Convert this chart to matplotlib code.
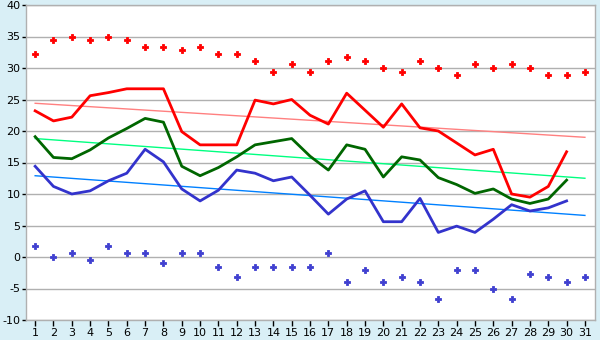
import numpy as np
import matplotlib
matplotlib.use("Agg")
import matplotlib.pyplot as plt

plt.rcParams['axes.unicode_minus'] = False

days = np.arange(1, 32)
line_days = np.arange(1, 31)

# record high / record low for each day
rec_high = [32.2, 34.4, 35.0, 34.4, 35.0, 34.4, 33.3, 33.3, 32.8, 33.3,
            32.2, 32.2, 31.1, 29.4, 30.6, 29.4, 31.1, 31.7, 31.1, 30.0,
            29.4, 31.1, 30.0, 28.9, 30.6, 30.0, 30.6, 30.0, 28.9, 28.9, 29.4]
rec_low = [1.7, 0.0, 0.6, -0.5, 1.7, 0.6, 0.6, -1.0, 0.6, 0.6,
           -1.6, -3.2, -1.6, -1.6, -1.6, -1.6, 0.6, -3.9, -2.1, -3.9,
           -3.2, -3.9, -6.7, -2.1, -2.1, -5.0, -6.7, -2.7, -3.2, -3.9, -3.2]

# daily max / mean / min for days 1..30
t_max = [23.2, 21.6, 22.2, 25.6, 26.1, 26.7, 26.7, 26.7, 19.9, 17.8,
         17.8, 17.8, 24.9, 24.3, 25.0, 22.5, 21.1, 26.0, 23.3, 20.6,
         24.3, 20.5, 20.0, 18.1, 16.2, 17.1, 10.0, 9.5, 11.2, 16.7]
t_mean = [19.1, 15.8, 15.6, 17.0, 18.9, 20.4, 22.0, 21.4, 14.4, 12.9,
          14.2, 15.9, 17.8, 18.3, 18.8, 16.0, 13.8, 17.8, 17.1, 12.7,
          15.9, 15.4, 12.6, 11.5, 10.1, 10.8, 9.2, 8.5, 9.2, 12.2]
t_min = [14.4, 11.2, 10.0, 10.5, 12.1, 13.3, 17.1, 15.1, 10.8, 8.9,
         10.6, 13.8, 13.3, 12.1, 12.7, 9.8, 6.8, 9.2, 10.5, 5.6,
         5.6, 9.3, 3.9, 4.9, 3.9, 6.0, 8.3, 7.3, 7.8, 8.9]

# climate normals, start and end of month
norm_days = [1, 31]
norm_max = [24.4, 19.0]
norm_mean = [18.8, 12.5]
norm_min = [12.9, 6.6]

bg = '#d9eff6'
grid_c = '#b0b0b0'

fig = plt.figure(figsize=(6, 3.4), dpi=100, facecolor=bg)
ax = fig.add_axes([26 / 600, 1 - 320 / 340, 569 / 600, 315 / 340])
ax.set_facecolor('white')

ax.set_ylim(-10, 40)
ax.set_xlim(0.5, 31.55)
ax.set_yticks(np.arange(-10, 41, 5))
ax.set_xticks(days)
ax.yaxis.grid(True, color=grid_c, linewidth=1)
ax.set_axisbelow(True)

ax.plot(norm_days, norm_max, color='#ff8080', linewidth=1)
ax.plot(norm_days, norm_mean, color='#00ff80', linewidth=1)
ax.plot(norm_days, norm_min, color='#0080ff', linewidth=1)

ax.plot(line_days, t_max, color='#ff0000', linewidth=2)
ax.plot(line_days, t_mean, color='#006600', linewidth=2)
ax.plot(line_days, t_min, color='#3333cc', linewidth=2)

ax.plot(days, rec_high, linestyle='none', marker='P', markersize=5,
        color='#ff0000', markeredgewidth=0.6)
ax.plot(days, rec_low, linestyle='none', marker='P', markersize=5,
        color='#3f3fd0', markeredgewidth=0.6)

for s in ax.spines.values():
    s.set_color(grid_c)
    s.set_linewidth(1)

ax.tick_params(axis='both', colors='black', labelsize=8, width=1)
ax.tick_params(axis='y', pad=1, length=3)
ax.tick_params(axis='x', pad=2, length=4)

fig.savefig('out.png', dpi=100, facecolor=bg)
